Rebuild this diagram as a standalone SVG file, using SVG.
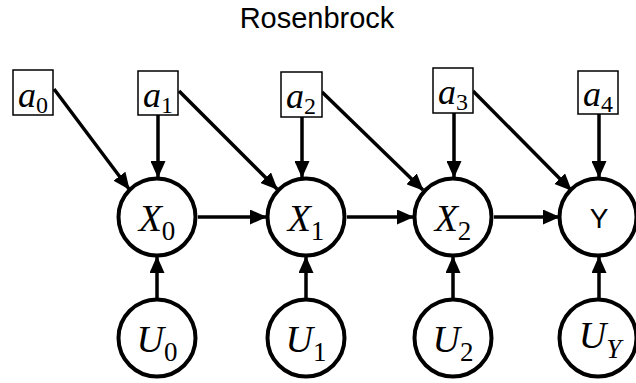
<svg xmlns="http://www.w3.org/2000/svg" width="636" height="383" viewBox="0 0 636 383">
<style>
.box{fill:#fff;stroke:#000;stroke-width:1.5}
.node{fill:#fff;stroke:#000;stroke-width:4}
.edge{stroke:#000;stroke-width:3.5;fill:none;marker-end:url(#arr)}
.lbl{font-family:"Liberation Serif","Times New Roman",serif;font-style:italic;text-anchor:middle;fill:#000}
.sub{font-style:normal}
.title{font-family:"Liberation Sans",Arial,sans-serif;font-size:29px;text-anchor:middle}
</style>
<defs>
<marker id="arr" markerUnits="userSpaceOnUse" markerWidth="17" markerHeight="15" refX="16" refY="7.5" orient="auto">
<path d="M0,0 L17,7.5 L0,15 z" fill="#000"/>
</marker>
</defs>
<text class="title" x="317" y="28">Rosenbrock</text>
<g id="connectors">
<line class="edge" x1="54" y1="89" x2="129" y2="189"/>
<line class="edge" x1="158" y1="115" x2="158" y2="177"/>
<line class="edge" x1="179" y1="91" x2="277" y2="189"/>
<line class="edge" x1="302" y1="117" x2="302" y2="177"/>
<line class="edge" x1="322" y1="92" x2="423" y2="190"/>
<line class="edge" x1="454" y1="113" x2="454" y2="177"/>
<line class="edge" x1="473" y1="91" x2="571" y2="190"/>
<line class="edge" x1="599" y1="114" x2="599" y2="177"/>
<line class="edge" x1="198" y1="217" x2="266" y2="217"/>
<line class="edge" x1="347" y1="217" x2="413" y2="217"/>
<line class="edge" x1="494" y1="217" x2="559" y2="217"/>
<line class="edge" x1="157" y1="298" x2="157" y2="257"/>
<line class="edge" x1="306" y1="298" x2="306" y2="257"/>
<line class="edge" x1="453" y1="298" x2="453" y2="257"/>
<line class="edge" x1="599" y1="298" x2="599" y2="257"/>
</g>
<g id="a0"><rect class="box" x="13" y="70" width="40" height="45"/><text class="lbl" x="33" y="107" font-size="36">a<tspan class="sub" font-size="24" dy="6">0</tspan></text></g>
<g id="a1"><rect class="box" x="138" y="71" width="40" height="44"/><text class="lbl" x="158" y="107" font-size="36">a<tspan class="sub" font-size="24" dy="6">1</tspan></text></g>
<g id="a2"><rect class="box" x="281" y="72" width="41" height="45"/><text class="lbl" x="301" y="108" font-size="36">a<tspan class="sub" font-size="24" dy="6">2</tspan></text></g>
<g id="a3"><rect class="box" x="433" y="68" width="40" height="45"/><text class="lbl" x="453" y="104" font-size="36">a<tspan class="sub" font-size="24" dy="6">3</tspan></text></g>
<g id="a4"><rect class="box" x="578" y="71" width="40" height="43"/><text class="lbl" x="598" y="106" font-size="36">a<tspan class="sub" font-size="24" dy="6">4</tspan></text></g>
<g id="X0"><circle class="node" cx="157" cy="217" r="38.5"/><text class="lbl" x="157" y="231" font-size="38">X<tspan class="sub" font-size="27" dy="9">0</tspan></text></g>
<g id="X1"><circle class="node" cx="306" cy="217" r="38.5"/><text class="lbl" x="306" y="231" font-size="38">X<tspan class="sub" font-size="27" dy="9">1</tspan></text></g>
<g id="X2"><circle class="node" cx="453" cy="217" r="38.5"/><text class="lbl" x="453" y="231" font-size="38">X<tspan class="sub" font-size="27" dy="9">2</tspan></text></g>
<g id="Y"><circle class="node" cx="598" cy="217" r="38.5"/><text x="599" y="228" font-family="Liberation Sans,Arial,sans-serif" font-size="28" text-anchor="middle">Y</text></g>
<g id="U0"><circle class="node" cx="157" cy="338" r="38.5"/><text class="lbl" x="157" y="352" font-size="38">U<tspan class="sub" font-size="27" dy="9">0</tspan></text></g>
<g id="U1"><circle class="node" cx="306" cy="338" r="38.5"/><text class="lbl" x="306" y="352" font-size="38">U<tspan class="sub" font-size="27" dy="9">1</tspan></text></g>
<g id="U2"><circle class="node" cx="453" cy="338" r="38.5"/><text class="lbl" x="453" y="352" font-size="38">U<tspan class="sub" font-size="27" dy="9">2</tspan></text></g>
<g id="UY"><circle class="node" cx="598" cy="338" r="38.5"/><text class="lbl" x="600" y="348" font-size="38">U<tspan font-size="27" dy="10">Y</tspan></text></g>
</svg>
